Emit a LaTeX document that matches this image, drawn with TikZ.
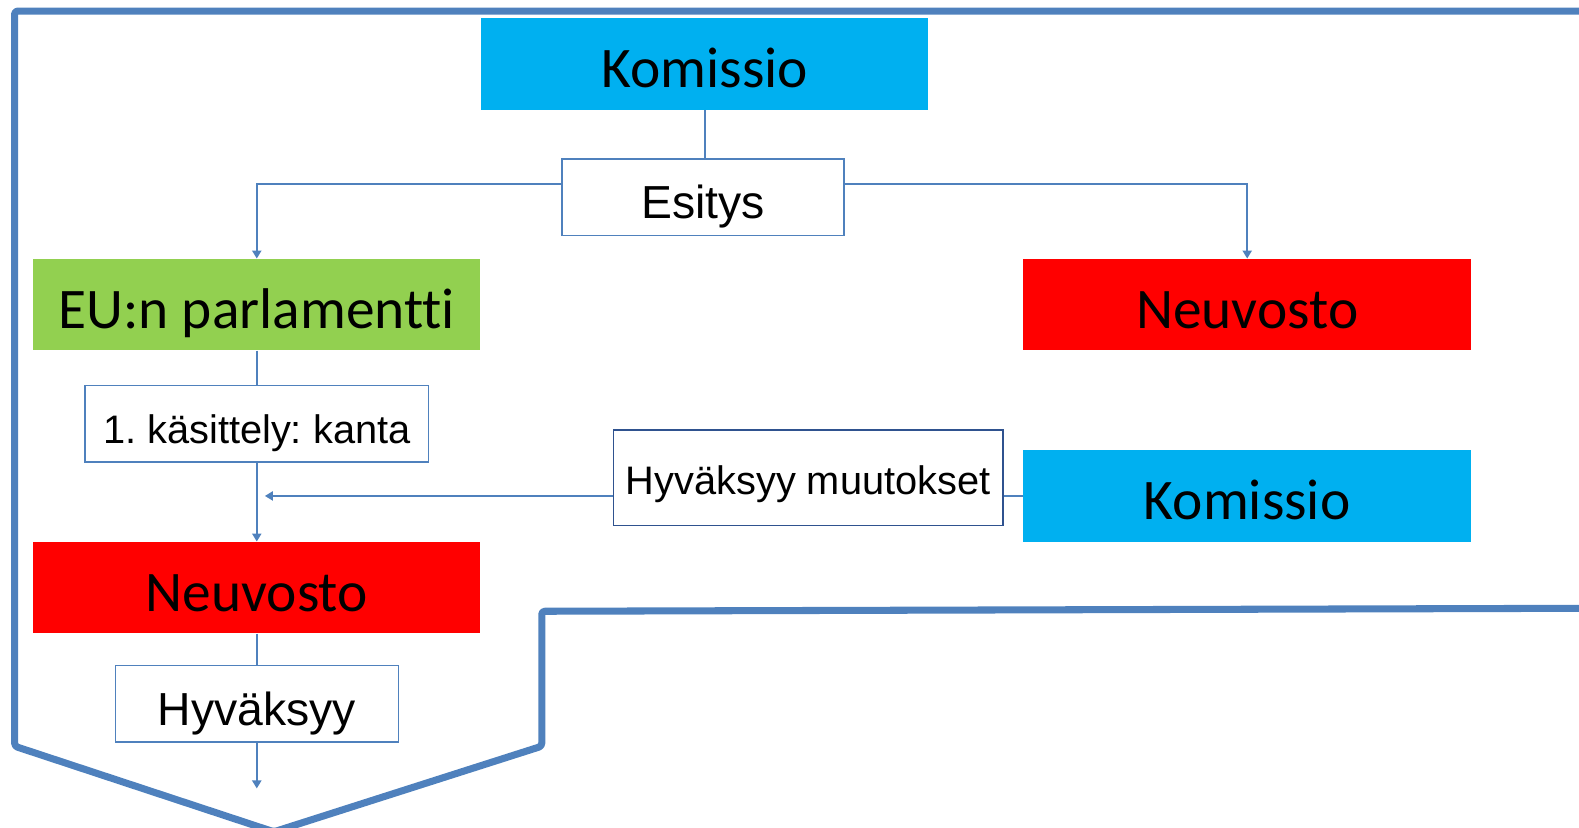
\documentclass[tikz,border=0pt]{standalone}
\usepackage{fontspec}
\setmainfont{Liberation Sans}
\newfontfamily\calib[Ligatures=NoCommon]{Carlito}
\usetikzlibrary{arrows.meta,calc}
\definecolor{lineblue}{HTML}{4F81BD}
\definecolor{darkborder}{HTML}{2F528F}
\definecolor{kcyan}{HTML}{00B0F0}
\definecolor{kgreen}{HTML}{92D050}
\definecolor{kred}{HTML}{FF0000}
\frenchspacing
\tikzset{
  colbox/.style={rectangle, inner sep=0pt, minimum width=444pt, minimum height=91pt,
    font=\calib\fontsize{57}{57}\selectfont, text height=47pt, text depth=0pt},
  wbox/.style={rectangle, draw=lineblue, line width=1.5pt, fill=white, inner sep=0pt,
    minimum height=76pt, font=\fontsize{46}{46}\selectfont, text height=42pt, text depth=0pt},
  conn/.style={draw=lineblue, line width=2pt},
  arr/.style={conn, -{Triangle[length=8pt,width=9pt]}},
  outline/.style={draw=lineblue, line width=7pt, line join=round, rounded corners=3pt}
}
\begin{document}
\begin{tikzpicture}[x=1pt,y=-1pt]
\useasboundingbox (0,0) rectangle (1568,822);
\clip (0,0) rectangle (1568,822);

% big outline
\draw[outline] (1590,11) -- (14.5,11) -- (14.5,741) -- (272,826) -- (538,741) -- (538,607) -- (1590,604);

% boxes
\node[colbox, fill=kcyan] (kom1) at (700,63.5) {Komissio};
\node[wbox, minimum width=280pt] (esitys) at (698,196) {Esitys};
\node[colbox, fill=kgreen] (eu) at (255,302.5) {EU:n parlamentti};
\node[colbox, fill=kred, minimum width=445pt] (neu1) at (1238.5,302.5) {Neuvosto};
\node[wbox, minimum width=341pt, font=\fontsize{39.5}{39.5}\selectfont, text height=38pt] (kas) at (255,421) {1. käsittely: kanta};
\node[wbox, draw=darkborder, minimum width=387pt, minimum height=95pt, font=\fontsize{39.5}{39.5}\selectfont, text height=33pt] (hm) at (802.5,474.5) {Hyväksyy muutokset};
\node[colbox, fill=kcyan, minimum width=445pt] (kom2) at (1238.5,492.5) {Komissio};
\node[colbox, fill=kred] (neu2) at (255,583.5) {Neuvosto};
\node[wbox, minimum width=281pt] (hyv) at (255,699) {Hyväksyy};

\coordinate (tip) at (263,492.5);
\coordinate (endp) at (255,783);

% connectors
\draw[conn] (kom1.south) -- (kom1.south |- esitys.north);
\draw[arr] ($(esitys.north west)+(0,25)$) -| (eu.north);
\draw[arr] ($(esitys.north east)+(0,25)$) -| (neu1.north);
\draw[conn] (eu.south) -- (kas.north);
\draw[arr] (kas.south) -- (neu2.north);
\draw[conn] (kom2.west) -- (kom2.west -| hm.east);
\draw[arr] (kom2.west -| hm.west) -- (tip);
\draw[conn] (neu2.south) -- (hyv.north);
\draw[arr] (hyv.south) -- (endp);
\end{tikzpicture}
\end{document}
